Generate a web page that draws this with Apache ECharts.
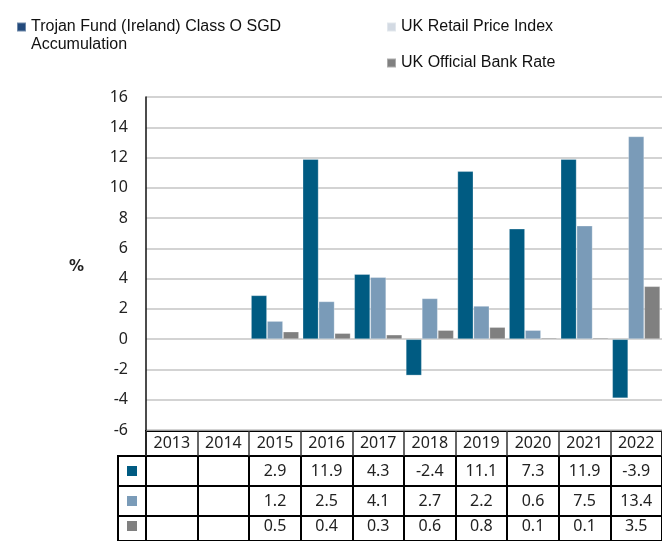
<!DOCTYPE html>
<html>
<head>
<meta charset="utf-8">
<script src="https://cdn.jsdelivr.net/npm/echarts@6/dist/echarts.min.js"></script>
<style>
  html, body { margin: 0; padding: 0; background: #fff; }
  #main { width: 662px; height: 541px; }
</style>
</head>
<body>
<div id="main"></div>
<script>
// data
const years = ['2013', '2014', '2015', '2016', '2017', '2018', '2019', '2020', '2021', '2022'];
const trojan = [null, null, 2.9, 11.9, 4.3, -2.4, 11.1, 7.3, 11.9, -3.9];
const rpi = [null, null, 1.2, 2.5, 4.1, 2.7, 2.2, 0.6, 7.5, 13.4];
const bankRate = [null, null, 0.5, 0.4, 0.3, 0.6, 0.8, 0.1, 0.1, 3.5];
const seriesNames = ['Trojan Fund (Ireland) Class O SGD Accumulation', 'UK Retail Price Index', 'UK Official Bank Rate'];
const barColors = ['#005b82', '#7a9bb8', '#808080'];
const legendColors = ['#234a7c', '#d3dae3', '#808080'];

const chart = echarts.init(document.getElementById('main'));

const tableFont = 'Noto Sans';
const rows = [trojan, rpi, bankRate];
const rowTops = [456, 486, 516];
const rowH = 30;

let grids = [
  { left: 146, right: 0, top: 97, height: 333 },            // main plot
  { left: 146, right: 0, top: 431, height: 25, show: true, borderColor: '#000', borderWidth: 2 } // year header
];
let xAxes = [
  { type: 'category', gridIndex: 0, data: years,
    axisLabel: { show: false }, axisTick: { show: false }, axisLine: { show: false } },
  { type: 'category', gridIndex: 1, data: years,
    axisTick: { show: false }, axisLine: { show: false },
    splitLine: { show: true, interval: 0, lineStyle: { color: '#333', width: 1.5 } },
    axisLabel: { inside: true, margin: 12.5, verticalAlign: 'middle', interval: 0,
      fontFamily: tableFont, fontSize: 16, color: '#222' } }
];
let yAxes = [
  { type: 'value', gridIndex: 0, min: -6, max: 16, interval: 2,
    name: '%', nameLocation: 'middle', nameRotate: 0, nameGap: 62,
    nameTextStyle: { fontFamily: 'DejaVu Sans', fontWeight: 'bold', fontSize: 15, color: '#222',
      verticalAlign: 'top', lineHeight: 8 },
    axisLine: { show: true, lineStyle: { color: '#111', width: 1.5 } },
    axisTick: { show: false },
    axisLabel: { margin: 18, fontFamily: tableFont, fontSize: 16, color: '#222' },
    splitLine: { lineStyle: { color: '#c4c4c4', width: 1.5 } } },
  { type: 'value', gridIndex: 1, show: false }
];

rows.forEach((row, k) => {
  // value cells
  grids.push({ left: 146, right: 0, top: rowTops[k], height: rowH, show: true, borderColor: '#000', borderWidth: 2 });
  let gi = grids.length - 1;
  xAxes.push({ type: 'category', gridIndex: gi, data: years,
    axisTick: { show: false }, axisLine: { show: false },
    splitLine: { show: true, interval: 0, lineStyle: { color: '#000', width: 2 } },
    axisLabel: { inside: true, margin: rowH / 2, verticalAlign: 'middle', interval: 0,
      fontFamily: tableFont, fontSize: 16, color: '#222',
      formatter: (v, i) => row[i] == null ? '' : row[i].toFixed(1) } });
  yAxes.push({ type: 'value', gridIndex: gi, show: false });
  // key cell
  grids.push({ left: 118, width: 28, top: rowTops[k], height: rowH, show: true, borderColor: '#000', borderWidth: 2 });
  gi = grids.length - 1;
  xAxes.push({ type: 'category', gridIndex: gi, data: [seriesNames[k]],
    axisTick: { show: false }, axisLine: { show: false },
    axisLabel: { inside: true, margin: rowH / 2, verticalAlign: 'middle',
      formatter: () => '{k|}',
      rich: { k: { backgroundColor: barColors[k], width: 10, height: 10 } } } });
  yAxes.push({ type: 'value', gridIndex: gi, show: false });
});

const legendText = { fontFamily: 'Liberation Sans', fontSize: 16, color: '#111', lineHeight: 18 };

const option = {
  animation: false,
  legend: [
    {
      // square kept at the top of a taller symbol box so it lines up with the first text line
      left: 16, top: 18, padding: 0,
      icon: 'path://M0,0L9,0L9,9L0,9Z M0,27L0,27',
      itemWidth: 9, itemHeight: 27,
      data: [{ name: seriesNames[0], itemStyle: { color: legendColors[0] } }],
      formatter: () => 'Trojan Fund (Ireland) Class O SGD\nAccumulation',
      textStyle: legendText
    },
    {
      left: 386, top: 18, padding: 0, orient: 'vertical', itemGap: 18,
      icon: 'rect', itemWidth: 9, itemHeight: 9,
      data: [
        { name: seriesNames[1], itemStyle: { color: legendColors[1] } },
        { name: seriesNames[2], itemStyle: { color: legendColors[2] } }
      ],
      textStyle: legendText
    }
  ],
  grid: grids,
  xAxis: xAxes,
  yAxis: yAxes,
  series: [trojan, rpi, bankRate].map((d, k) => ({
    name: seriesNames[k],
    type: 'bar',
    xAxisIndex: 0, yAxisIndex: 0,
    data: d,
    barGap: '0%',
    barCategoryGap: '7%',
    itemStyle: { color: barColors[k], borderColor: 'rgba(255,255,255,0.35)', borderWidth: 0.8 }
  }))
};

chart.setOption(option);
</script>
</body>
</html>
